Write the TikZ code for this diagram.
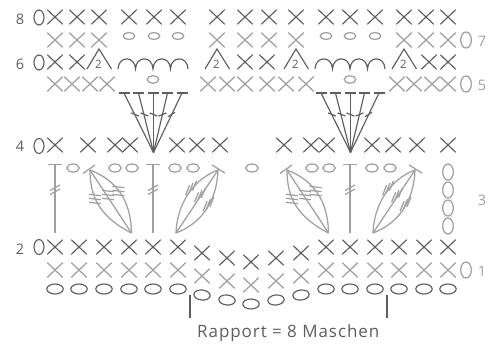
\documentclass[tikz,border=0pt]{standalone}
\usepackage{fontspec}
\setmainfont{Open Sans}
\definecolor{dk}{HTML}{5E5E5E}
\definecolor{lt}{HTML}{A0A0A0}
\tikzset{
  dkline/.style={draw=dk,line width=1.15pt},
  ltline/.style={draw=lt,line width=1.25pt},
  numlab/.style={inner sep=0pt,font=\fontsize{14.5}{15}\selectfont},
}
% X stitch: style, x, y
\newcommand{\cx}[3]{\draw[#1] (#2-7.7,#3-7.3) -- (#2+7.7,#3+7.3) (#2-7.7,#3+7.3) -- (#2+7.7,#3-7.3);}
\newcommand{\cxrow}[3]{\foreach \px in {#3} {\cx{#1}{\px}{#2}}}
% oval: style, x, y, rx, ry, rotation
\newcommand{\ov}[6]{\draw[#1,rotate around={#6:(#2,#3)}] (#2,#3) ellipse[x radius=#4,y radius=#5];}
% treble fan
\newcommand{\fan}{
  \foreach \bx in {124,138.5,153.5,167.5,182} {
    \draw[dkline] (\bx-5.5,93) -- (\bx+5.5,93);
    \draw[dkline] (\bx,93) -- (153.5,152.5);
  }
  \foreach \tx/\ax in {135/-22,144.5/-22,153.5/-22,162.5/22,171.5/32} {
    \draw[dk,line width=1.2pt,rotate around={\ax:(\tx,114.5)}] (\tx-4.2,114.5) -- (\tx+4.2,114.5);
  }
}
\newcommand{\archrow}{
  \draw[dkline] (118,69) .. controls (118.5,55.5) and (135,55.5) .. (135.5,69)
   .. controls (136,55.5) and (152.5,55.5) .. (153,69)
   .. controls (153.5,55.5) and (170,55.5) .. (170.5,69)
   .. controls (171,55.5) and (187.5,55.5) .. (188,69);
}
\newcommand{\tri}[1]{
  \draw[dkline] (#1-12,69) -- (#1,49) -- (#1+12.5,69);
  \node[inner sep=0pt,text=dk,font=\fontsize{11.5}{12}\selectfont] at (#1-.5,64.5) {2};
}
\newcommand{\tstem}[1]{
  \draw[ltline] (#1-7,164.5) -- (#1+7,164.5) (#1,164.5) -- (#1,233);
  \draw[ltline] (#1-5,190.5) -- (#1+5,185) (#1-5,194.5) -- (#1+5,189);
}
\newcommand{\leafL}{
  \draw[ltline] (83,173.5) -- (95,165);
  \draw[ltline] (90,170) -- (131.5,233);
  \draw[ltline] (90,170) .. controls (90,195) and (98,216) .. (131.5,233);
  \draw[ltline] (90,170) .. controls (116,180) and (131,200) .. (131.5,233);
  \foreach \gx/\gy in {95/199,108/195,118.5/191} {
    \foreach \dy in {-4,0,4} {
      \draw[lt,line width=1.25pt] (\gx-6,\gy+\dy-.7) -- (\gx+6,\gy+\dy+.7);
    }
  }
}
\newcommand{\leafR}{
  \draw[ltline] (212,165) -- (225,173);
  \draw[ltline] (218,170) -- (176,233);
  \draw[ltline] (218,170) .. controls (192,180) and (177,205) .. (176,233);
  \draw[ltline] (218,170) .. controls (217,197) and (205,222) .. (176,233);
  \foreach \gx/\gy in {191/188,200/195,208.5/204} {
    \foreach \ds in {-1,0,1} {
      \draw[lt,line width=1.25pt] (\gx+\ds*3.4-2,\gy-\ds*2.2+5) -- (\gx+\ds*3.4+2,\gy-\ds*2.2-5);
    }
  }
}
\begin{document}
\begin{tikzpicture}[x=1pt,y=-1pt]
\useasboundingbox (0,0) rectangle (494,348);
% row numbers
\foreach \lab/\ly/\zy in {8/19.5/17.5,6/64/62.5,4/146.5/146,2/249/247} {
  \node[numlab,text=dk] at (20,\ly) {\lab};
  \ov{dkline}{39}{\zy}{5}{7.5}{0}
}
\foreach \lab/\ly in {7/41,5/85,1/271} {
  \node[numlab,text=lt] at (482,\ly) {\lab};
  \ov{ltline}{466}{\ly-1}{5.3}{8}{0}
}
\node[numlab,text=lt] at (482,200) {3};
% row 8
\cxrow{dkline}{17}{55,77,99,129,154,178,217,245,269,296,326,350,375,404,426,448}
% row 7
\cxrow{ltline}{40}{55,77,99,217,245,269,296,404,426,448}
\foreach \ox in {129,154,178,326,350,375} {\ov{ltline}{\ox}{36}{5.7}{3.5}{0}}
% row 6
\cxrow{dkline}{62}{55,77,245,267,429,448}
\tri{99}\tri{217}\tri{296}\tri{404}
\archrow
\begin{scope}[shift={(197,0)}]\archrow\end{scope}
% row 5
\cxrow{ltline}{84}{55,72,90,107,208,227,245,267,286,306,397,414,432,448}
\ov{ltline}{153}{79.5}{5.7}{3.8}{0}
\ov{ltline}{350}{79.5}{5.7}{3.8}{0}
% fans
\fan
\begin{scope}[shift={(197,0)}]\fan\end{scope}
% row 4
\cxrow{dkline}{145}{55,88,115,130,177,197,220,284,311,327,372,393,417,448}
% row 3
\tstem{55}\tstem{153}\tstem{350}
\foreach \ox in {73,115,132,175,193,252,312,329,372,390} {\ov{ltline}{\ox}{168}{6.2}{4}{0}}
\foreach \oy in {172,190,208,226} {\ov{ltline}{448}{\oy}{5.3}{8}{0}}
\leafL\leafR
\begin{scope}[shift={(197,0)}]\leafL\leafR\end{scope}
% rows 2, 1, foundation
\foreach \sx/\dy/\rot in {55/0/0,79/0/0,104/0/0,129/0/0,153/0/0,178/0/0,202/6/-6,227/11/-6,251/15/0,276/11/6,301/6/6,326/0/0,350/0/0,375/0/0,399/0/0,424/0/0,448/0/0} {
  \cx{dkline}{\sx}{247+\dy}
  \cx{ltline}{\sx}{270+\dy}
  \ov{dkline}{\sx}{289+\dy}{8.2}{5}{\rot}
}
% repeat
\draw[dk,line width=2pt] (190,295) -- (190,318);
\draw[dk,line width=2pt] (387,295) -- (387,318);
\node[inner sep=0pt,anchor=base west,text=dk,font=\fontsize{17}{18}\selectfont\addfontfeature{LetterSpace=5.5}] (rapport) at (197,337) {Rapport = 8 Maschen};
\end{tikzpicture}
\end{document}
